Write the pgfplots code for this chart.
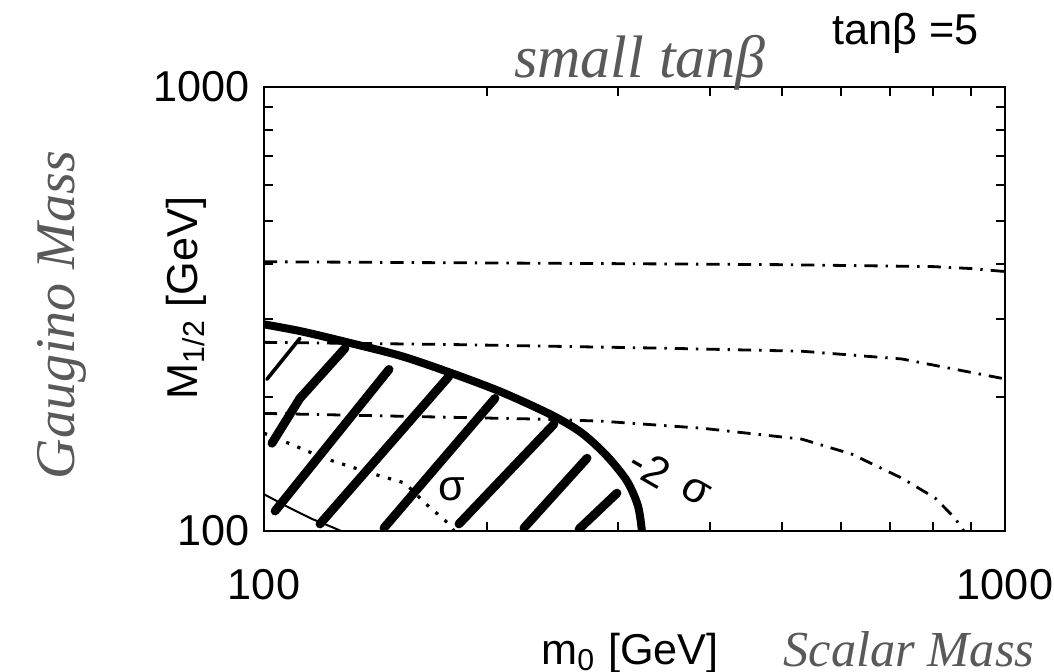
\documentclass[border=0pt]{standalone}
\usepackage{fontspec}
\setmainfont{Liberation Sans}
\newfontfamily\hand{Liberation Serif}
\usepackage{pgfplots}
\pgfplotsset{compat=1.18}
\definecolor{pencil}{gray}{0.35}
\begin{document}
\begin{tikzpicture}
\useasboundingbox (-66pt,-35.25pt) rectangle (197.5pt,132.75pt);
\begin{axis}[
  at={(0pt,0pt)}, anchor=south west,
  scale only axis, width=185.25pt, height=111pt,
  xmode=log, ymode=log,
  xmin=100, xmax=1000, ymin=100, ymax=1000,
  xtick={100,1000}, xticklabels={100,1000},
  ytick={100,1000}, yticklabels={100,1000},
  minor xtick={200,300,400,500,600,700,800,900},
  minor ytick={200,300,400,500,600,700,800,900},
  major tick length=0pt, minor tick length=2.2pt,
  tick align=inside,
  axis line style={line width=0.6pt},
  tick style={black, line width=0.5pt},
  tick label style={font=\fontsize{10.8}{13}\selectfont},
  xticklabel style={yshift=-6pt},
  yticklabel style={xshift=0pt},
  xlabel={m\textsubscript{0} [GeV]},
  ylabel={M\textsubscript{1/2} [GeV]},
  label style={font=\fontsize{10.8}{13}\selectfont},
  xlabel style={at={(axis description cs:0.494,-0.275)}, anchor=center},
  ylabel style={at={(axis description cs:-0.105,0.525)}, anchor=center},
  clip mode=individual,
]
% dash-dot contours
\addplot[black, line width=0.7pt, dash pattern=on 3.3pt off 2pt on 0.6pt off 2pt] coordinates {
 (100,404) (300,400) (500,398) (800,394) (900,390) (1000,384)};
\addplot[black, line width=0.7pt, dash pattern=on 3.3pt off 2pt on 0.6pt off 2pt] coordinates {
 (100,266) (179,263) (348,258) (532,254) (726,244) (848,232) (1000,220)};
\addplot[black, line width=0.7pt, dash pattern=on 3.3pt off 2pt on 0.6pt off 2pt] coordinates {
 (100,184) (240,178.5) (286,176.7) (390,170.4) (532,161) (621,149) (726,131.5) (805,118.6) (856,106.9) (880,100)};
% dotted sigma contour
\addplot[black, line width=0.8pt, dash pattern=on 0.8pt off 2.2pt] coordinates {
 (100,166) (102.5,163.5) (120.5,145.9) (140.7,134.3) (155,128.2) (164.9,115.6) (177.7,103.7) (180.5,100)};
% thin solid contour
\addplot[black, line width=0.5pt] coordinates {
 (100,121) (108.4,112.6) (116,106.5) (124.3,101.6) (127,100)};
% hatching strokes
\addplot[black, line width=0.9pt, line cap=round] coordinates {(100.9,219.6) (111.8,271.5)};
\addplot[black, line width=2.2pt, line cap=round] coordinates {(102.5,157.6) (111.8,199.0) (128.6,257.8)};
\addplot[black, line width=2.2pt, line cap=round] coordinates {(103.5,110.9) (147.5,231.2)};
\addplot[black, line width=2.2pt, line cap=round] coordinates {(119.0,103.7) (177.7,223.0)};
\addplot[black, line width=2.2pt, line cap=round] coordinates {(145.2,101.6) (205.0,199.0)};
\addplot[black, line width=2.2pt, line cap=round] coordinates {(183.3,103.7) (246.2,174.0)};
\addplot[black, line width=2.2pt, line cap=round] coordinates {(224.3,101.6) (272.9,145.9)};
\addplot[black, line width=2.2pt, line cap=round] coordinates {(266.2,101) (299.5,121.7)};
% thick -2 sigma boundary
\addplot[black, line width=2pt, smooth, tension=0.5] coordinates {
 (100,292) (112.5,281.4) (131.4,264.5) (153.6,247.4) (179.4,226.5) (209.5,205.3) (244.7,182.3) (268.6,166.1) (290.4,147.4) (309,129.5) (319.7,113.8) (323.6,100)};
\node[font=\fontsize{10.8}{13}\selectfont] at (axis cs:179.4,124.3) {σ};
\node[font=\fontsize{10.8}{13}\selectfont, rotate=-30, inner sep=0pt] at (axis cs:332,139) {-2};
\node[font=\fontsize{10.8}{13}\selectfont, rotate=-30, inner sep=0pt] at (axis cs:382,123) {σ};
\end{axis}
\node[font=\fontsize{10.8}{13}\selectfont] at (160.5pt,124.5pt) {tanβ =5};
\node[font=\hand\itshape\fontsize{15}{18}\selectfont, text=pencil] at (94pt,117pt) {small tanβ};
\node[font=\hand\itshape\fontsize{14}{17}\selectfont, text=pencil, rotate=90] at (-50.5pt,54pt) {Gaugino Mass};
\node[font=\hand\itshape\fontsize{12.6}{15}\selectfont, text=pencil, anchor=west, inner sep=0pt] at (129.75pt,-29.5pt) {Scalar Mass};
\end{tikzpicture}
\end{document}
